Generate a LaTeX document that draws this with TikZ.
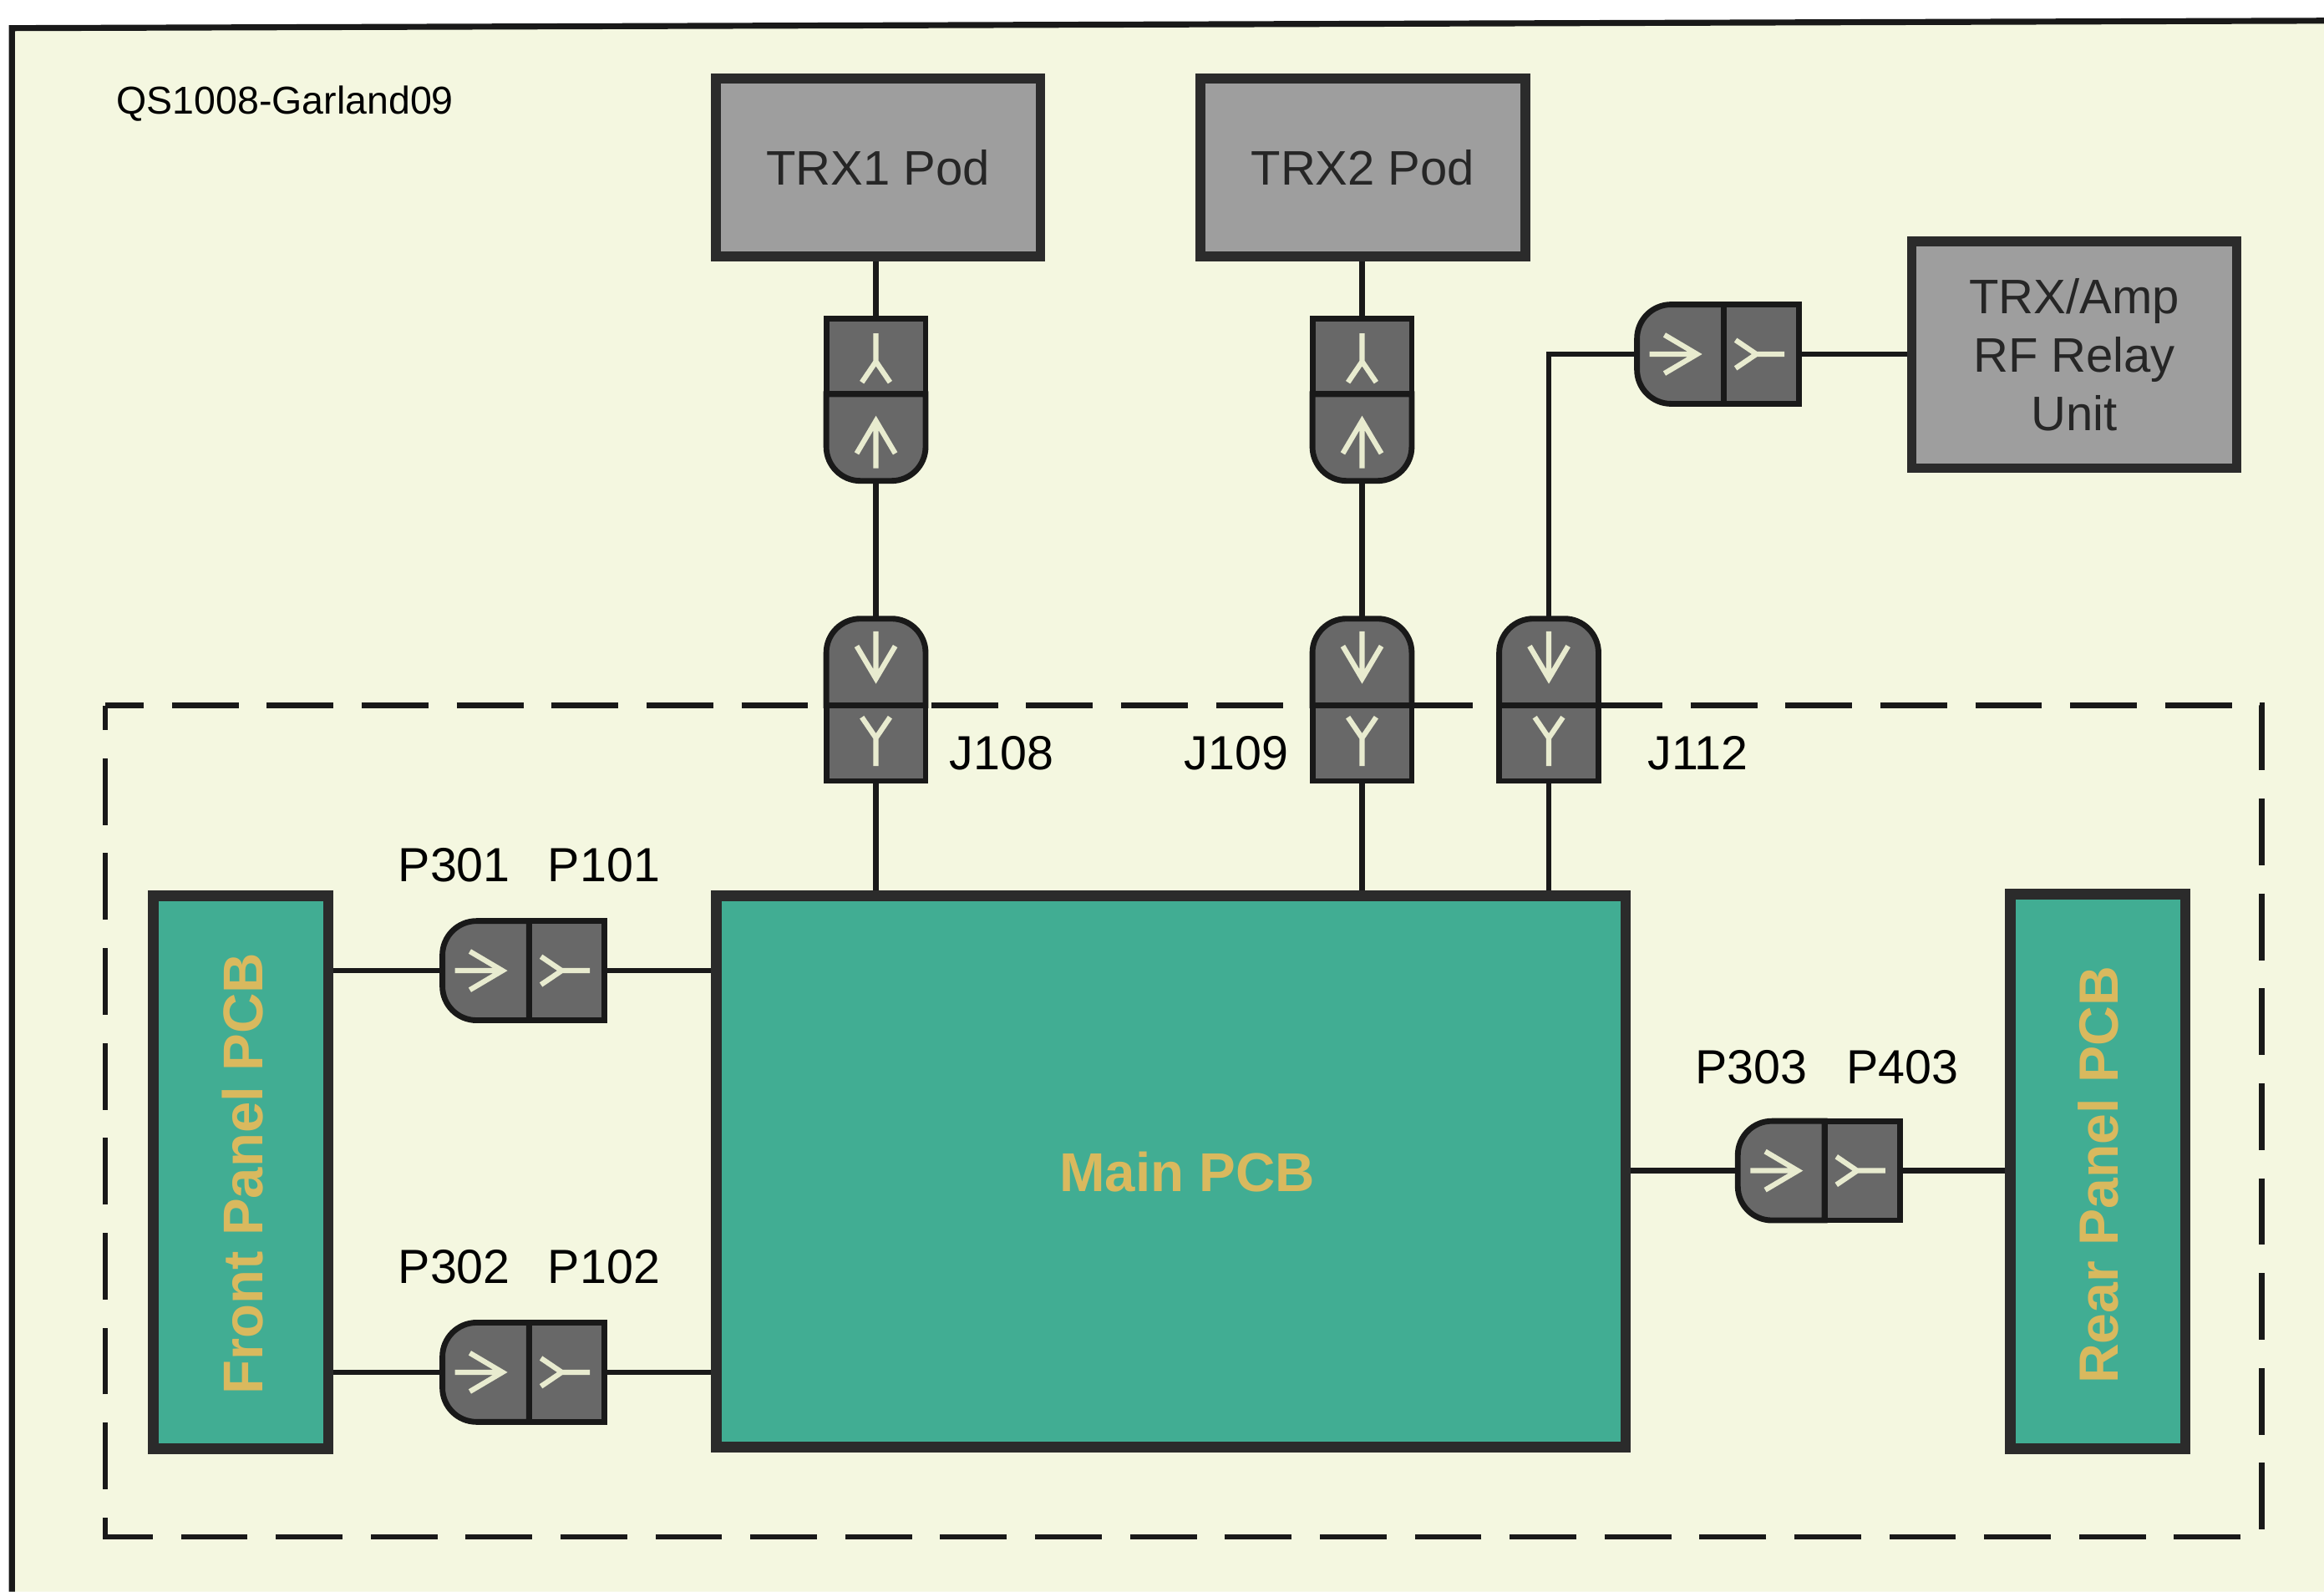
\documentclass[tikz,border=0pt]{standalone}
\usepackage{fontspec}
\setmainfont{Liberation Sans}
\definecolor{paper}{HTML}{F4F7E0}
\definecolor{boxgray}{HTML}{9E9E9E}
\definecolor{pluggray}{HTML}{686868}
\definecolor{pcbgreen}{HTML}{41AD93}
\definecolor{pcbtext}{HTML}{D9B95E}
\definecolor{glyphtint}{HTML}{E8EBCF}
\definecolor{edgedark}{HTML}{2B2B2B}
\tikzset{
    unitbox/.style={draw=edgedark,line width=1.85pt,fill=boxgray,inner sep=0pt,align=center,
        text=black!85,font=\fontsize{9.3}{11.2}\selectfont},
    pcbbox/.style={draw=edgedark,line width=2pt,fill=pcbgreen,inner sep=0pt},
    wire/.style={line width=1pt,black!90},
    plugbody/.style={draw=black!90,line width=1.1pt,fill=pluggray},
    plugglyph/.style={draw=glyphtint,line width=1pt},
    reflabel/.style={inner sep=0pt,font=\fontsize{9.2}{11}\selectfont},
    plugpair/.pic={
        \path[plugbody] (0,-33.5) [rounded corners=0.23cm] -- (-58.5,-33.5) -- (-58.5,33.5)
            [sharp corners] -- (0,33.5) -- cycle;
        \path[plugbody] (0,-33.5) rectangle (51,33.5);
        %arrow
        \draw[plugglyph] (-50,0) -- (-18,0) (-40,-13) -- (-18,0) -- (-40,13);
        %fork
        \draw[plugglyph] (41,0) -- (22,0) (8,-9.5) -- (22,0) -- (8,9.5);
        \coordinate (-round) at (-60,0);
        \coordinate (-flat) at (52,0);
    }
}

\begin{document}
\begin{tikzpicture}[x=0.01cm,y=-0.01cm]
    \useasboundingbox (0,0) rectangle (1568,1074);
    \fill[white] (0,0) rectangle (1568,1074);
    %sheet
    \fill[paper] (8,19) -- (1568,14) -- (1568,1074) -- (8,1074) -- cycle;
    \draw[line width=1.15pt,black!90] (8,1074) -- (8,19) -- (1568,14);
    \node[inner sep=0pt,anchor=west,font=\fontsize{7.45}{9}\selectfont] (sheetid) at (78,70) {QS1008-Garland09};
    %enclosure
    \draw[line width=1.05pt,black!90,dash pattern=on 0.45cm off 0.19cm,dash phase=0.19cm]
        (71,476) -- (1526,476) -- (1526,1037) -- (71,1037) -- cycle;
    %units
    \node[unitbox,minimum width=2.19cm,minimum height=1.2cm] (trxa) at (592.5,113) {TRX1 Pod};
    \node[unitbox,minimum width=2.19cm,minimum height=1.2cm] (trxb) at (919.5,113) {TRX2 Pod};
    \node[unitbox,minimum width=2.19cm,minimum height=1.53cm] (relay) at (1399.5,239.5) {TRX/Amp\\RF Relay\\Unit};
    %boards
    \node[pcbbox,minimum width=6.13cm,minimum height=3.72cm] (mainpcb) at (790,790.5) {};
    \node[pcbbox,minimum width=1.18cm,minimum height=3.73cm] (frontpcb) at (162.5,791) {};
    \node[pcbbox,minimum width=1.18cm,minimum height=3.74cm] (rearpcb) at (1415.5,790.5) {};
    \node[text=pcbtext,inner sep=0pt,font=\fontsize{10.5}{12}\selectfont\bfseries] (maintext) at (801,791) {Main PCB};
    \node[text=pcbtext,inner sep=0pt,rotate=90,font=\fontsize{10.75}{12}\selectfont\bfseries] (fronttext) at (164,792) {Front Panel PCB};
    \node[text=pcbtext,inner sep=0pt,rotate=90,font=\fontsize{10.6}{12}\selectfont\bfseries] (reartext) at (1416,793) {Rear Panel PCB};
    %plugs
    \foreach \name/\px/\py/\turn in {pa/591/266/90,pb/919/266/90,ja/591/476/-90,jb/919/476/-90,jc/1045/476/-90,
        pd/1163/239/0,pe/357/655/0,pf/357/926/0,pg/1231/790/0}
        \pic[rotate=\turn] (\name) at (\px,\py) {plugpair};
    %wires
    \draw[wire] (pa-flat |- trxa.south) -- (pa-flat);
    \draw[wire] (pb-flat |- trxb.south) -- (pb-flat);
    \draw[wire] (pa-round) -- (ja-round);
    \draw[wire] (pb-round) -- (jb-round);
    \draw[wire] (jc-round) |- (pd-round);
    \draw[wire] (pd-flat) -- (pd-flat -| relay.west);
    \foreach \name in {ja,jb,jc}
        \draw[wire] (\name-flat) -- (\name-flat |- mainpcb.north);
    \foreach \name in {pe,pf}
        \draw[wire] (\name-round -| frontpcb.east) -- (\name-round)
            (\name-flat) -- (\name-flat -| mainpcb.west);
    \draw[wire] (pg-round -| mainpcb.east) -- (pg-round);
    \draw[wire] (pg-flat) -- (pg-flat -| rearpcb.west);
    %labels
    \node[reflabel,anchor=west] (jlabela) at (640,508) {J108};
    \node[reflabel,anchor=east] (jlabelb) at (870,508) {J109};
    \node[reflabel,anchor=west] (jlabelc) at (1111,508) {J112};
    \node[reflabel,anchor=west] (plabela) at (268,584) {P301};
    \node[reflabel,anchor=west] (plabelb) at (369,584) {P101};
    \node[reflabel,anchor=west] (plabelc) at (268,855) {P302};
    \node[reflabel,anchor=west] (plabeld) at (369,855) {P102};
    \node[reflabel,anchor=west] (plabele) at (1143,720) {P303};
    \node[reflabel,anchor=west] (plabelf) at (1245,720) {P403};
\end{tikzpicture}
\end{document}
